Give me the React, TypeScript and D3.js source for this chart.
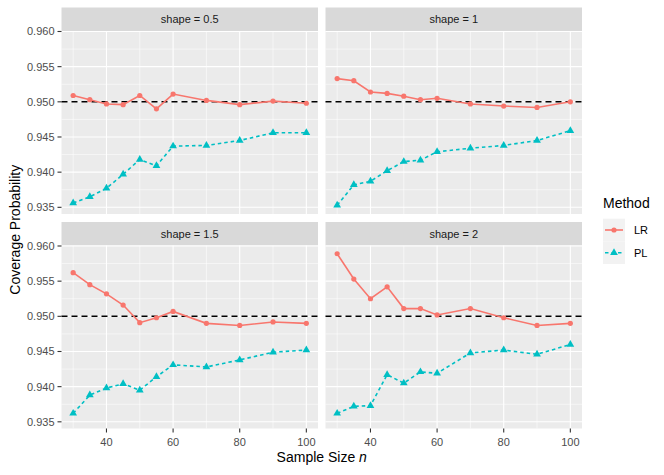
import * as d3 from "d3";
import { useEffect, useRef } from "react";

const sampleSizes = [30, 35, 40, 45, 50, 55, 60, 70, 80, 90, 100];
const shapes = ["0.5", "1", "1.5", "2"];
const methods = ["LR", "PL"];
const yTicks = [0.935, 0.94, 0.945, 0.95, 0.955, 0.96];
const xTicks = [40, 60, 80, 100];

// coverage by shape, one array per method
const lrValues = [
  [0.9509, 0.9503, 0.9497, 0.9496, 0.9509, 0.949, 0.9511, 0.9502, 0.9496, 0.9501, 0.9498],
  [0.9533, 0.953, 0.9514, 0.9512, 0.9508, 0.9503, 0.9505, 0.9497, 0.9494, 0.9492, 0.95],
  [0.9562, 0.9545, 0.9532, 0.9516, 0.9491, 0.9498, 0.9507, 0.949, 0.9487, 0.9492, 0.949],
  [0.9589, 0.9553, 0.9525, 0.9542, 0.9511, 0.9511, 0.9502, 0.9511, 0.9498, 0.9487, 0.949],
];
const plValues = [
  [0.9356, 0.9365, 0.9377, 0.9397, 0.9418, 0.9409, 0.9437, 0.9438, 0.9445, 0.9456, 0.9456],
  [0.9353, 0.9382, 0.9387, 0.9402, 0.9415, 0.9417, 0.9429, 0.9434, 0.9438, 0.9445, 0.9459],
  [0.9362, 0.9388, 0.9398, 0.9404, 0.9395, 0.9414, 0.9431, 0.9428, 0.9438, 0.9449, 0.9452],
  [0.9362, 0.9372, 0.9373, 0.9417, 0.9405, 0.9421, 0.9419, 0.9448, 0.9452, 0.9446, 0.946],
];
const nominal = 0.95;

const colors = { LR: "#F8766D", PL: "#00BFC4" };
const font = "'Liberation Sans', Arial, sans-serif";

export default function App() {
  const svgRef = useRef<SVGSVGElement>(null);

  useEffect(() => {
    if (!svgRef.current) return;
    const svg = d3.select(svgRef.current);
    svg.selectAll("*").remove();

    const panelW = 256.5;
    const panelH = 183;
    const stripH = 23.5;
    const colX = [61.5, 325.5];
    const rowY = [31, 245.5];

    const x = d3.scaleLinear().domain([26.5, 103.5]).range([0, panelW]);
    const y = d3.scaleLinear().domain([0.93405, 0.96007]).range([panelH, 0]);

    const xMinor = [30, 50, 70, 90];
    const yMinor = d3.range(0, yTicks.length - 1).map((i) => (yTicks[i] + yTicks[i + 1]) / 2);

    shapes.forEach((shape, i) => {
      const col = i % 2;
      const row = Math.floor(i / 2);
      const g = svg
        .append("g")
        .attr("transform", `translate(${colX[col]},${rowY[row]})`);

      // strip
      g.append("rect")
        .attr("x", 0)
        .attr("y", -stripH)
        .attr("width", panelW)
        .attr("height", stripH)
        .attr("fill", "#D9D9D9");
      g.append("text")
        .attr("x", panelW / 2)
        .attr("y", -stripH / 2)
        .attr("dy", "0.35em")
        .attr("text-anchor", "middle")
        .style("font-family", font)
        .style("font-size", "11px")
        .style("fill", "#1A1A1A")
        .text(`shape = ${shape}`);

      // panel background + grid
      g.append("rect")
        .attr("width", panelW)
        .attr("height", panelH)
        .attr("fill", "#EBEBEB");
      g.selectAll(".ymin")
        .data(yMinor)
        .enter()
        .append("line")
        .attr("x1", 0)
        .attr("x2", panelW)
        .attr("y1", (d) => y(d))
        .attr("y2", (d) => y(d))
        .attr("stroke", "#fff")
        .attr("stroke-width", 0.55);
      g.selectAll(".xmin")
        .data(xMinor)
        .enter()
        .append("line")
        .attr("y1", 0)
        .attr("y2", panelH)
        .attr("x1", (d) => x(d))
        .attr("x2", (d) => x(d))
        .attr("stroke", "#fff")
        .attr("stroke-width", 0.55);
      g.selectAll(".ymaj")
        .data(yTicks)
        .enter()
        .append("line")
        .attr("x1", 0)
        .attr("x2", panelW)
        .attr("y1", (d) => y(d))
        .attr("y2", (d) => y(d))
        .attr("stroke", "#fff")
        .attr("stroke-width", 1.1);
      g.selectAll(".xmaj")
        .data(xTicks)
        .enter()
        .append("line")
        .attr("y1", 0)
        .attr("y2", panelH)
        .attr("x1", (d) => x(d))
        .attr("x2", (d) => x(d))
        .attr("stroke", "#fff")
        .attr("stroke-width", 1.1);

      // reference line
      g.append("line")
        .attr("x1", 0)
        .attr("x2", panelW)
        .attr("y1", y(nominal))
        .attr("y2", y(nominal))
        .attr("stroke", "#000")
        .attr("stroke-width", 1.6)
        .attr("stroke-dasharray", "6,4");

      const line = d3
        .line<number>()
        .x((_, j) => x(sampleSizes[j]))
        .y((d) => y(d));

      // LR
      g.append("path")
        .datum(lrValues[i])
        .attr("d", line)
        .attr("fill", "none")
        .attr("stroke", colors.LR)
        .attr("stroke-width", 1.6);
      g.selectAll(".lr")
        .data(lrValues[i])
        .enter()
        .append("circle")
        .attr("cx", (_, j) => x(sampleSizes[j]))
        .attr("cy", (d) => y(d))
        .attr("r", 2.6)
        .attr("fill", colors.LR);

      // PL
      g.append("path")
        .datum(plValues[i])
        .attr("d", line)
        .attr("fill", "none")
        .attr("stroke", colors.PL)
        .attr("stroke-width", 1.6)
        .attr("stroke-dasharray", "3.5,3");
      g.selectAll(".pl")
        .data(plValues[i])
        .enter()
        .append("path")
        .attr("d", d3.symbol(d3.symbolTriangle, 26)())
        .attr("transform", (d, j) => `translate(${x(sampleSizes[j])},${y(d)})`)
        .attr("fill", colors.PL);

      // y axis on left column
      if (col === 0) {
        const ya = g.append("g");
        ya.selectAll("line")
          .data(yTicks)
          .enter()
          .append("line")
          .attr("x1", -4)
          .attr("x2", 0)
          .attr("y1", (d) => y(d))
          .attr("y2", (d) => y(d))
          .attr("stroke", "#333")
          .attr("stroke-width", 1.1);
        ya.selectAll("text")
          .data(yTicks)
          .enter()
          .append("text")
          .attr("x", -7)
          .attr("y", (d) => y(d))
          .attr("dy", "0.35em")
          .attr("text-anchor", "end")
          .style("font-family", font)
          .style("font-size", "11px")
          .style("fill", "#4D4D4D")
          .text((d) => d3.format(".3f")(d));
      }

      // x axis on bottom row
      if (row === 1) {
        const xa = g.append("g").attr("transform", `translate(0,${panelH})`);
        xa.selectAll("line")
          .data(xTicks)
          .enter()
          .append("line")
          .attr("x1", (d) => x(d))
          .attr("x2", (d) => x(d))
          .attr("y1", 0)
          .attr("y2", 4)
          .attr("stroke", "#333")
          .attr("stroke-width", 1.1);
        xa.selectAll("text")
          .data(xTicks)
          .enter()
          .append("text")
          .attr("x", (d) => x(d))
          .attr("y", 14)
          .attr("dy", "0.35em")
          .attr("text-anchor", "middle")
          .style("font-family", font)
          .style("font-size", "11px")
          .style("fill", "#4D4D4D")
          .text((d) => d);
      }
    });

    // axis titles
    const xt = svg
      .append("text")
      .attr("x", (colX[0] + colX[1] + panelW) / 2)
      .attr("y", 462)
      .attr("text-anchor", "middle")
      .style("font-family", font)
      .style("font-size", "14px")
      .style("fill", "#000");
    xt.append("tspan").text("Sample Size ");
    xt.append("tspan").style("font-style", "italic").text("n");

    svg
      .append("text")
      .attr("transform", `translate(15,${(rowY[0] + rowY[1] + panelH) / 2}) rotate(-90)`)
      .attr("dy", "0.35em")
      .attr("text-anchor", "middle")
      .style("font-family", font)
      .style("font-size", "14px")
      .style("fill", "#000")
      .text("Coverage Probability");

    // legend
    const legend = svg.append("g").attr("transform", "translate(603,0)");
    legend
      .append("text")
      .attr("x", 0)
      .attr("y", 203)
      .attr("dy", "0.35em")
      .style("font-family", font)
      .style("font-size", "14px")
      .style("fill", "#000")
      .text("Method");

    methods.forEach((m, k) => {
      const cy = 230 + k * 22.7;
      const color = m === "LR" ? colors.LR : colors.PL;
      legend
        .append("rect")
        .attr("x", 0)
        .attr("y", cy - 11.35)
        .attr("width", 22)
        .attr("height", 22.7)
        .attr("fill", "#F2F2F2");
      legend
        .append("line")
        .attr("x1", 2)
        .attr("x2", 20)
        .attr("y1", cy)
        .attr("y2", cy)
        .attr("stroke", color)
        .attr("stroke-width", 1.6)
        .attr("stroke-dasharray", m === "PL" ? "3.5,3" : null);
      if (m === "LR") {
        legend
          .append("circle")
          .attr("cx", 11)
          .attr("cy", cy)
          .attr("r", 2.6)
          .attr("fill", color);
      } else {
        legend
          .append("path")
          .attr("d", d3.symbol(d3.symbolTriangle, 26)())
          .attr("transform", `translate(11,${cy})`)
          .attr("fill", color);
      }
      legend
        .append("text")
        .attr("x", 31)
        .attr("y", cy)
        .attr("dy", "0.35em")
        .style("font-family", font)
        .style("font-size", "11px")
        .style("fill", "#000")
        .text(m);
    });
  }, []);

  return (
    <svg
      ref={svgRef}
      width={664}
      height={475}
      style={{ position: "absolute", left: 0, top: 0, background: "#fff" }}
    />
  );
}
